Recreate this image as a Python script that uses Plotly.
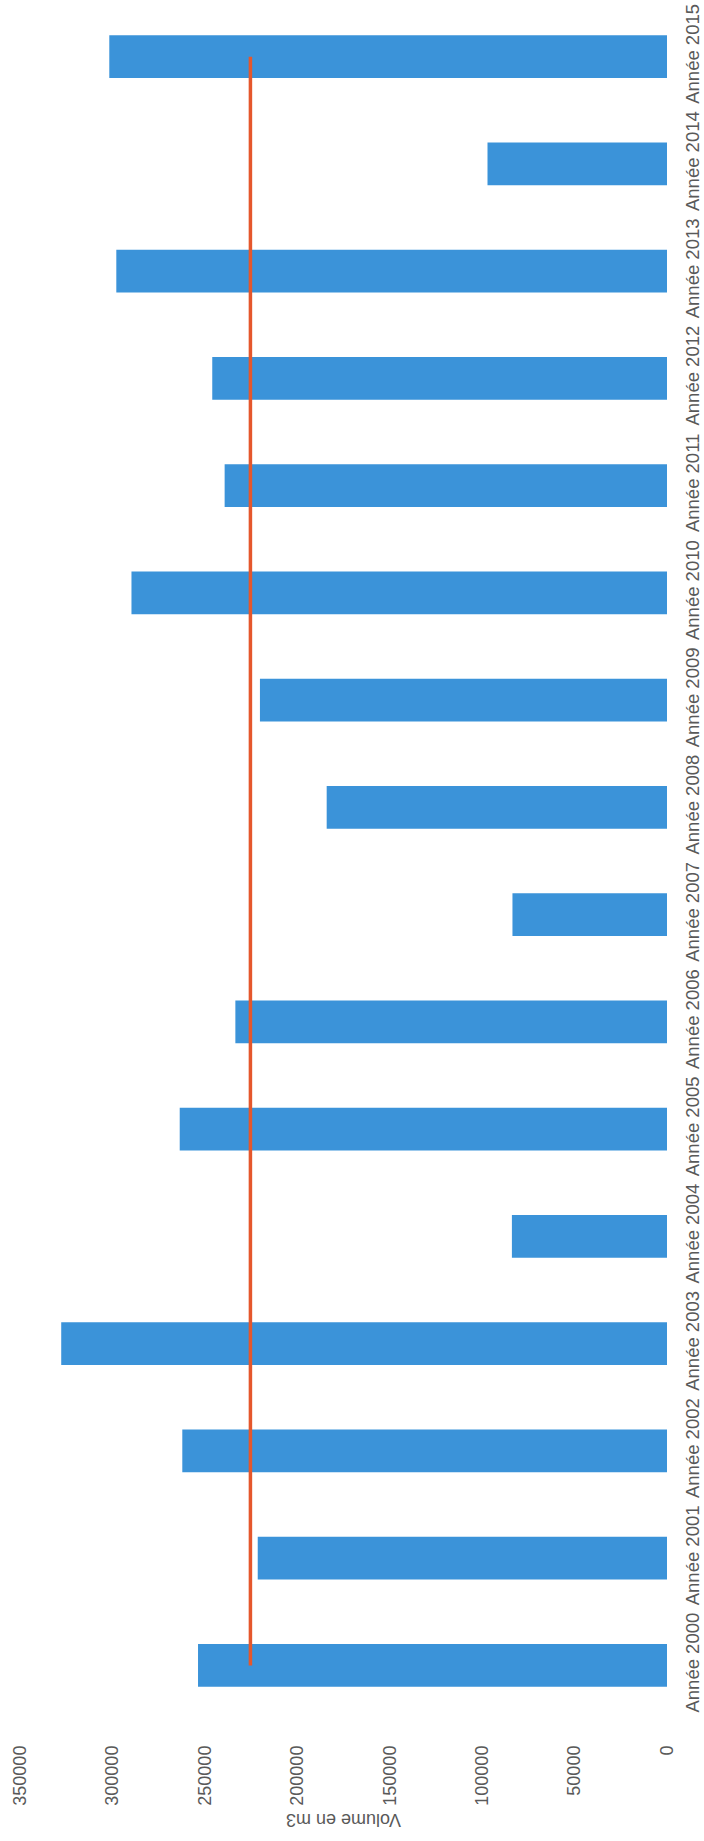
import plotly.graph_objects as go

# Annual volumes (m3), 2000 -> 2015
annees = ["Année 2000", "Année 2001", "Année 2002", "Année 2003", "Année 2004",
          "Année 2005", "Année 2006", "Année 2007", "Année 2008", "Année 2009",
          "Année 2010", "Année 2011", "Année 2012", "Année 2013", "Année 2014",
          "Année 2015"]
volumes = [253700, 221400, 262200, 327700, 83900, 263600, 233500, 83600,
           184100, 220200, 289700, 239300, 246000, 297900, 97100, 301700]

# Average volume over the period
moyenne = sum(volumes) / len(volumes)

valeur_ticks = [0, 50000, 100000, 150000, 200000, 250000, 300000, 350000]

BLEU = "#3B93D9"
ORANGE = "#E5572C"
GRIS = "#595959"
FONT = "Liberation Sans"

fig = go.Figure()

fig.add_trace(go.Bar(
    x=volumes,
    y=annees,
    orientation="h",
    marker=dict(color=BLEU, line=dict(width=0)),
    name="Volume",
))

fig.add_trace(go.Scatter(
    x=[moyenne] * len(annees),
    y=annees,
    mode="lines",
    line=dict(color=ORANGE, width=3.5),
    name="Moyenne",
))

fig.update_layout(
    width=704,
    height=1841,
    margin=dict(l=20, r=37, t=3, b=122),
    paper_bgcolor="white",
    plot_bgcolor="white",
    showlegend=False,
    bargap=0.6,
    font=dict(family=FONT, color=GRIS, size=18),
)

fig.update_xaxes(
    range=[350000, 0],
    tickvals=valeur_ticks,
    ticktext=[str(v) for v in valeur_ticks],
    tickangle=-90,
    showgrid=False,
    zeroline=False,
    showline=False,
    ticks="",
    automargin=False,
    ticklabelstandoff=22,
    tickfont=dict(family=FONT, size=18, color=GRIS),
)

fig.update_yaxes(
    type="category",
    categoryorder="array",
    categoryarray=annees,
    range=[-0.5, len(annees) - 0.5],
    side="right",
    tickangle=-90,
    showgrid=False,
    zeroline=False,
    showline=False,
    ticks="",
    automargin=False,
    ticklabelstandoff=12,
    tickfont=dict(family=FONT, size=18.5, color=GRIS),
)

# Axis title, written upside down below the value axis
fig.add_annotation(
    text="Volume en m3",
    xref="paper", yref="paper",
    x=0.5, y=0,
    xanchor="center", yanchor="middle",
    yshift=-101,
    showarrow=False,
    textangle=180,
    font=dict(family=FONT, size=18, color=GRIS),
)

fig.write_html("out.html")
